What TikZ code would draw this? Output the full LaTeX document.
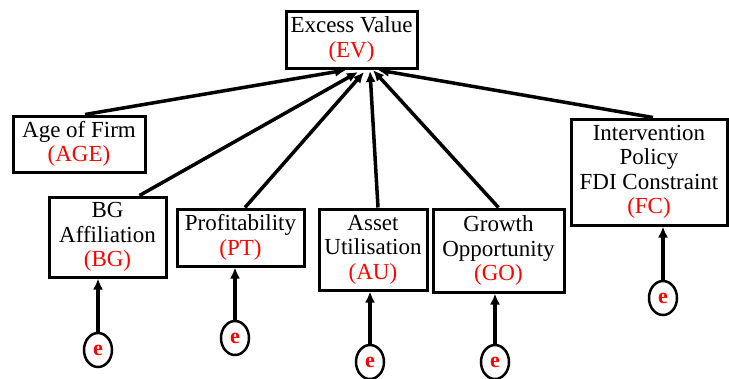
\documentclass[tikz,border=0pt]{standalone}
\usepackage{fontspec}
\setmainfont{Liberation Serif}
\usetikzlibrary{arrows.meta,shapes.geometric}
\definecolor{lblred}{RGB}{255,0,0}
\tikzset{
  box/.style={draw, line width=3pt, align=center, inner sep=0pt,
    font=\fontsize{23}{24.5}\selectfont},
  err/.style={draw, ellipse, line width=2.5pt, minimum width=28pt, minimum height=34pt,
    inner sep=0pt, text=lblred, font=\fontsize{22}{23}\selectfont\bfseries},
  arr/.style={line width=3.5pt, -{Latex[length=11pt,width=10pt]}},
}
\begin{document}
\begin{tikzpicture}[x=1pt,y=-1pt]
\useasboundingbox (0,0) rectangle (729,378);
\node[box, minimum width=131pt, minimum height=57pt] (EV) at (351.5,39.5) {Excess Value\\\textcolor{lblred}{(EV)}};
\node[box, minimum width=132pt, minimum height=56pt] (AGE) at (79,144) {Age of Firm\\\textcolor{lblred}{(AGE)}};
\node[box, minimum width=117pt, minimum height=80pt] (BG) at (107.5,237) {BG\\Affiliation\\\textcolor{lblred}{(BG)}};
\node[box, minimum width=127pt, minimum height=57pt] (PT) at (240.5,237.5) {Profitability\\\textcolor{lblred}{(PT)}};
\node[box, minimum width=108pt, minimum height=81pt] (AU) at (373,249.5) {Asset\\Utilisation\\\textcolor{lblred}{(AU)}};
\node[box, minimum width=131pt, minimum height=83pt] (GO) at (498.5,250.5) {Growth\\Opportunity\\\textcolor{lblred}{(GO)}};
\node[box, minimum width=156pt, minimum height=106pt] (FC) at (649,172) {Intervention\\Policy\\FDI Constraint\\\textcolor{lblred}{(FC)}};

\node[err] (e1) at (98,350) {e};
\node[err] (e2) at (235,338) {e};
\node[err] (e3) at (370,362) {e};
\node[err] (e4) at (495,362) {e};
\node[err] (e5) at (663,298) {e};

\coordinate (t1) at (346,70);
\coordinate (t2) at (358,72);
\coordinate (t3) at (364,72);
\coordinate (t4) at (370,71);
\coordinate (t5) at (373,70);
\coordinate (t6) at (378,70);

\draw[arr] ([xshift=6pt]AGE.north) -- (t1);
\draw[arr] ([xshift=32pt]BG.north) -- (t2);
\draw[arr] ([xshift=4.5pt]PT.north) -- (t3);
\draw[arr] ([xshift=5pt]AU.north) -- (t4);
\draw[arr] (GO.north) -- (t5);
\draw[arr] ([xshift=4pt]FC.north) -- (t6);

\draw[arr] (e1.north) -- (e1 |- BG.south);
\draw[arr] (e2.north) -- (e2 |- PT.south);
\draw[arr] (e3.north) -- (e3 |- AU.south);
\draw[arr] (e4.north) -- (e4 |- GO.south);
\draw[arr] (e5.north) -- (e5 |- FC.south);
\end{tikzpicture}
\end{document}
